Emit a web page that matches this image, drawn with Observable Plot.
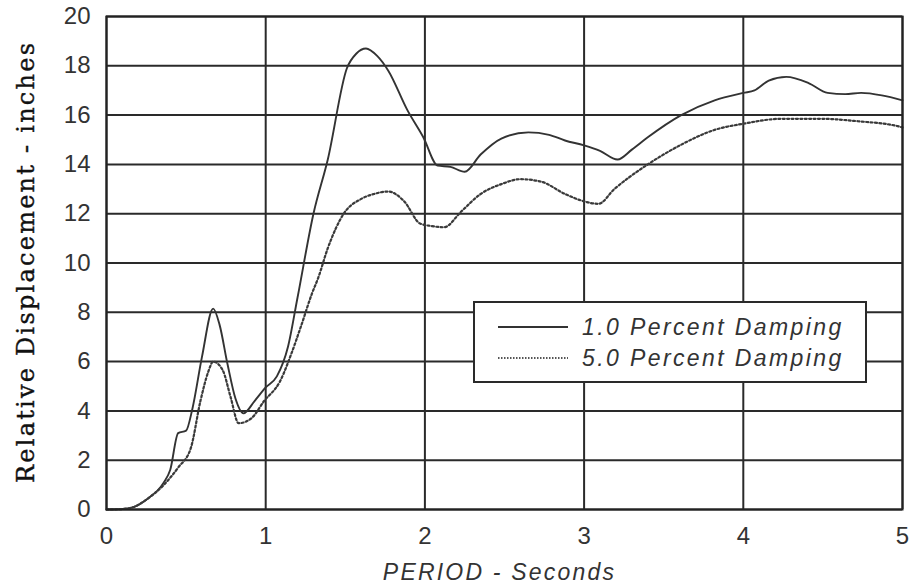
<!DOCTYPE html>
<html>
<head>
<meta charset="utf-8">
<script src="https://cdn.jsdelivr.net/npm/d3@7"></script>
<script src="https://cdn.jsdelivr.net/npm/@observablehq/plot@0.6"></script>
<style>
  html, body { margin: 0; padding: 0; background: #fff; }
  #wrap { position: relative; width: 910px; height: 584px; }
  #legend {
    position: absolute; left: 473px; top: 301px; width: 390px; height: 78px;
    border: 2px solid #2a2a2a; background: #fff;
    font-family: "Liberation Sans", Arial, sans-serif; font-style: italic;
    font-size: 23px; color: #333; letter-spacing: 2.4px;
  }
  .row { position: absolute; left: 0; height: 30px; display: flex; align-items: center; }
  .row svg { margin-left: 23px; margin-right: 14px; }
</style>
</head>
<body>
<div id="wrap"></div>
<script>
// Period (s) and relative displacement (in)
const periodSolid = [0, 0.1, 0.17, 0.25, 0.36, 0.4, 0.45, 0.5, 0.54, 0.6, 0.67, 0.71, 0.76, 0.81, 0.86, 0.93, 1.0, 1.07, 1.14, 1.2, 1.3, 1.39, 1.51, 1.57, 1.63, 1.7, 1.77, 1.89, 1.99, 2.08, 2.16, 2.25, 2.35, 2.48, 2.65, 2.78, 2.88, 3.0, 3.1, 3.21, 3.3, 3.4, 3.61, 3.82, 4.0, 4.07, 4.16, 4.27, 4.41, 4.53, 4.64, 4.74, 4.87, 5.0];
const disp1pct = [0, 0.02, 0.1, 0.4, 1.1, 1.6, 3.1, 3.2, 4.1, 6.2, 8.15, 7.5, 5.9, 4.5, 3.9, 4.4, 4.95, 5.4, 6.6, 8.6, 12.0, 14.2, 17.9, 18.5, 18.7, 18.4, 17.8, 16.2, 15.1, 13.95, 13.9, 13.7, 14.4, 15.05, 15.3, 15.2, 14.97, 14.77, 14.55, 14.2, 14.6, 15.1, 16.0, 16.6, 16.9, 17.0, 17.4, 17.55, 17.3, 16.9, 16.85, 16.9, 16.8, 16.6];

const periodDotted = [0, 0.1, 0.17, 0.25, 0.36, 0.45, 0.53, 0.59, 0.64, 0.67, 0.73, 0.78, 0.83, 0.91, 0.99, 1.09, 1.16, 1.22, 1.29, 1.33, 1.39, 1.49, 1.6, 1.68, 1.77, 1.87, 1.97, 2.04, 2.12, 2.23, 2.35, 2.48, 2.6, 2.73, 2.88, 3.0, 3.09, 3.19, 3.4, 3.61, 3.82, 4.0, 4.24, 4.49, 4.72, 4.97, 5.0];
const disp5pct = [0, 0.02, 0.1, 0.4, 1.0, 1.7, 2.5, 4.4, 5.6, 6.0, 5.65, 4.55, 3.5, 3.7, 4.4, 5.2, 6.3, 7.4, 8.75, 9.4, 10.6, 12.0, 12.6, 12.8, 12.9, 12.5, 11.6, 11.5, 11.45, 12.1, 12.8, 13.2, 13.4, 13.3, 12.8, 12.5, 12.4, 13.0, 14.0, 14.8, 15.4, 15.65, 15.85, 15.85, 15.75, 15.55, 15.5];

const xTicks = [0, 1, 2, 3, 4, 5];
const yTicks = [0, 2, 4, 6, 8, 10, 12, 14, 16, 18, 20];
const seriesNames = ["1.0 Percent Damping", "5.0 Percent Damping"];
const xLabel = "PERIOD - Seconds";
const yLabel = "Relative Displacement - inches";

const solid = periodSolid.map((p, i) => ({period: p, disp: disp1pct[i]}));
const dotted = periodDotted.map((p, i) => ({period: p, disp: disp5pct[i]}));

const gridStyle = {stroke: "#2a2a2a", strokeOpacity: 1, strokeWidth: 2};

const chart = Plot.plot({
  width: 910,
  height: 584,
  marginLeft: 106,
  marginRight: 8,
  marginTop: 16,
  marginBottom: 75,
  style: {fontFamily: "'Liberation Sans', Arial, sans-serif", color: "#333", background: "#fff"},
  x: {domain: [0, 5]},
  y: {domain: [0, 20]},
  marks: [
    Plot.gridX(xTicks, gridStyle),
    Plot.gridY(yTicks, gridStyle),
    Plot.axisX(xTicks, {tickSize: 0, tickPadding: 17, fontSize: 24, tickFormat: d => String(d),
      label: xLabel, labelAnchor: "center", labelOffset: 70}),
    Plot.axisY(yTicks, {tickSize: 0, tickPadding: 16, fontSize: 24, tickFormat: d => String(d),
      label: yLabel, labelAnchor: "center", labelOffset: 90}),
    Plot.line(solid, {x: "period", y: "disp", curve: "monotone-x", stroke: "#333", strokeWidth: 1.9}),
    Plot.line(dotted, {x: "period", y: "disp", curve: "monotone-x", stroke: "#3a3a3a", strokeWidth: 2.2, strokeDasharray: "2,2.4"}),
    Plot.frame({stroke: "#222", strokeWidth: 2})
  ]
});

const wrap = document.getElementById("wrap");
wrap.appendChild(chart);

// style axis labels (and drop the automatic arrows)
const svg = d3.select(chart);
svg.selectAll('[aria-label="x-axis label"] text')
  .text(xLabel)
  .attr("dx", -5)
  .style("font-style", "italic").style("font-size", "23px").style("letter-spacing", "2.2px").style("fill", "#333");
svg.selectAll('[aria-label="y-axis label"] text')
  .text(yLabel)
  .attr("textLength", 440).attr("lengthAdjust", "spacing")
  .style("font-family", "'DejaVu Serif', 'Liberation Serif', serif").style("font-size", "24px")
  .style("fill", "#111").style("stroke", "#111").style("stroke-width", "0.4px");

// legend
const legend = d3.select(wrap).append("div").attr("id", "legend");
seriesNames.forEach((name, i) => {
  const row = legend.append("div").attr("class", "row").style("top", (i === 0 ? 9 : 40) + "px");
  const s = row.append("svg").attr("width", 70).attr("height", 6);
  s.append("line").attr("x1", 0).attr("x2", 70).attr("y1", 3).attr("y2", 3)
    .attr("stroke", i === 0 ? "#333" : "#555").attr("stroke-width", 2)
    .attr("stroke-dasharray", i === 0 ? null : "1.5,1.5");
  row.append("span").text(name);
});
</script>
</body>
</html>
